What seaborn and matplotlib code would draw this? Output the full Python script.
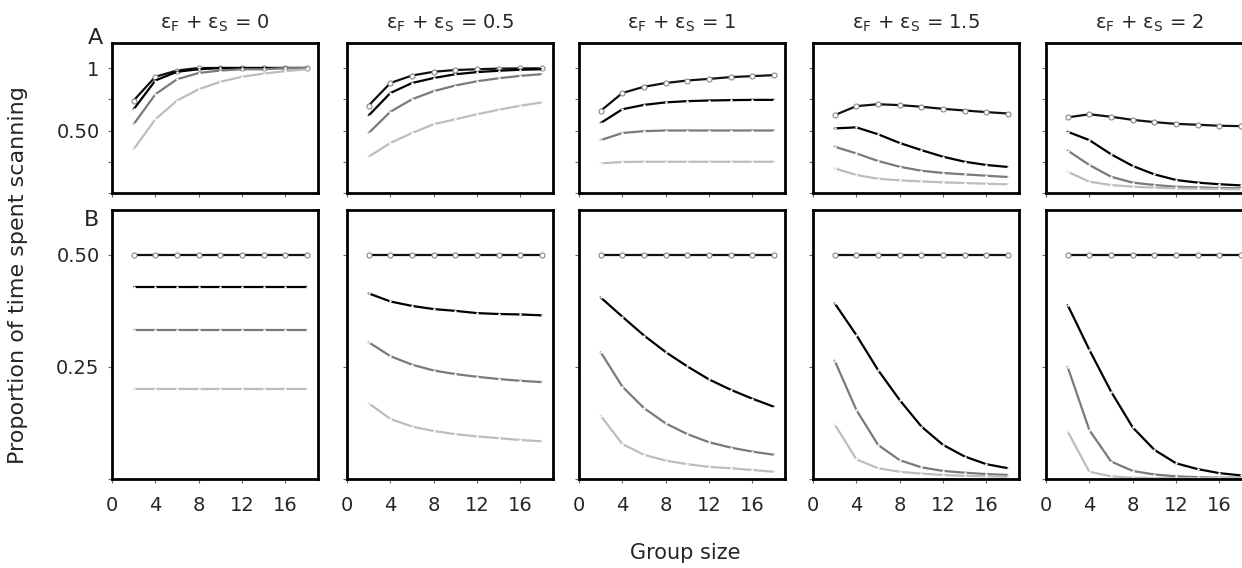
import matplotlib
matplotlib.use("Agg")
import pandas as pd
import matplotlib.pyplot as plt
import seaborn as sns

# group sizes where the model was evaluated
group_size = [2, 4, 6, 8, 10, 12, 14, 16, 18]
eps_labels = ["0", "0.5", "1", "1.5", "2"]

# row A, four curves per panel (darkest first)
a_eps0 = [[0.74, 0.93, 0.98, 1.00, 1.00, 1.00, 1.00, 1.00, 1.00],
          [0.67, 0.90, 0.97, 0.99, 1.00, 1.00, 1.00, 1.00, 1.00],
          [0.55, 0.79, 0.91, 0.96, 0.98, 0.99, 0.99, 1.00, 1.00],
          [0.35, 0.59, 0.74, 0.83, 0.89, 0.93, 0.955, 0.975, 0.99]]
a_eps05 = [[0.70, 0.88, 0.94, 0.97, 0.984, 0.99, 0.995, 0.997, 0.997],
           [0.62, 0.80, 0.88, 0.92, 0.95, 0.967, 0.978, 0.986, 0.99],
           [0.48, 0.65, 0.75, 0.815, 0.86, 0.894, 0.918, 0.937, 0.951],
           [0.29, 0.40, 0.48, 0.55, 0.59, 0.63, 0.666, 0.698, 0.725]]
a_eps1 = [[0.657, 0.80, 0.85, 0.88, 0.90, 0.913, 0.927, 0.935, 0.943],
          [0.56, 0.67, 0.705, 0.725, 0.735, 0.74, 0.743, 0.745, 0.745],
          [0.423, 0.48, 0.495, 0.50, 0.50, 0.50, 0.50, 0.50, 0.50],
          [0.237, 0.248, 0.25, 0.25, 0.25, 0.25, 0.25, 0.25, 0.25]]
a_eps15 = [[0.623, 0.695, 0.71, 0.703, 0.69, 0.673, 0.66, 0.647, 0.636],
           [0.517, 0.525, 0.47, 0.40, 0.343, 0.29, 0.25, 0.224, 0.208],
           [0.37, 0.317, 0.256, 0.21, 0.178, 0.16, 0.149, 0.138, 0.128],
           [0.197, 0.144, 0.114, 0.101, 0.093, 0.085, 0.08, 0.074, 0.069]]
a_eps2 = [[0.605, 0.63, 0.61, 0.585, 0.567, 0.553, 0.546, 0.538, 0.535],
          [0.49, 0.423, 0.31, 0.216, 0.149, 0.104, 0.083, 0.07, 0.061],
          [0.34, 0.224, 0.13, 0.083, 0.064, 0.05, 0.045, 0.04, 0.038],
          [0.17, 0.09, 0.064, 0.05, 0.043, 0.037, 0.034, 0.032, 0.03]]

# row B
b_eps0 = [[0.50, 0.50, 0.50, 0.50, 0.50, 0.50, 0.50, 0.50, 0.50],
          [0.429, 0.429, 0.429, 0.429, 0.429, 0.429, 0.429, 0.429, 0.429],
          [0.333, 0.333, 0.333, 0.333, 0.333, 0.333, 0.333, 0.333, 0.333],
          [0.20, 0.20, 0.20, 0.20, 0.20, 0.20, 0.20, 0.20, 0.20]]
b_eps05 = [[0.50, 0.50, 0.50, 0.50, 0.50, 0.50, 0.50, 0.50, 0.50],
           [0.414, 0.396, 0.386, 0.379, 0.375, 0.37, 0.368, 0.367, 0.365],
           [0.305, 0.274, 0.255, 0.242, 0.234, 0.228, 0.223, 0.219, 0.216],
           [0.169, 0.134, 0.117, 0.107, 0.10, 0.095, 0.091, 0.087, 0.084]]
b_eps1 = [[0.50, 0.50, 0.50, 0.50, 0.50, 0.50, 0.50, 0.50, 0.50],
          [0.405, 0.362, 0.32, 0.283, 0.251, 0.222, 0.199, 0.179, 0.161],
          [0.283, 0.206, 0.158, 0.124, 0.10, 0.082, 0.07, 0.061, 0.054],
          [0.141, 0.078, 0.054, 0.041, 0.033, 0.027, 0.024, 0.02, 0.016]]
b_eps15 = [[0.50, 0.50, 0.50, 0.50, 0.50, 0.50, 0.50, 0.50, 0.50],
           [0.392, 0.321, 0.243, 0.176, 0.117, 0.076, 0.05, 0.033, 0.024],
           [0.264, 0.154, 0.076, 0.042, 0.026, 0.018, 0.014, 0.011, 0.009],
           [0.122, 0.044, 0.024, 0.016, 0.012, 0.009, 0.007, 0.006, 0.005]]
b_eps2 = [[0.50, 0.50, 0.50, 0.50, 0.50, 0.50, 0.50, 0.50, 0.50],
          [0.388, 0.288, 0.195, 0.115, 0.065, 0.035, 0.022, 0.013, 0.008],
          [0.25, 0.109, 0.039, 0.018, 0.01, 0.006, 0.004, 0.003, 0.003],
          [0.106, 0.016, 0.006, 0.003, 0.002, 0.002, 0.002, 0.002, 0.002]]

rows_a = [a_eps0, a_eps05, a_eps1, a_eps15, a_eps2]
rows_b = [b_eps0, b_eps05, b_eps1, b_eps15, b_eps2]
line_colors = ["#111111", "#000000", "#7a7a7a", "#bdbdbd"]

sns.set_style("ticks")
plt.rcParams["font.family"] = ["DejaVu Sans"]

W, H = 1242, 568
fig = plt.figure(figsize=(W / 100, H / 100), dpi=100)
lefts = [112, 347, 579, 813, 1046]
pw = 206


def draw_panel(ax, curves):
    for k, ys in enumerate(curves):
        df = pd.DataFrame({"n": group_size, "p": ys})
        if k == 0:
            sns.lineplot(data=df, x="n", y="p", ax=ax, color=line_colors[k],
                         linewidth=1.6, marker="o", markersize=3.6,
                         markerfacecolor="white", markeredgecolor="#888888",
                         markeredgewidth=0.8)
        else:
            sns.lineplot(data=df, x="n", y="p", ax=ax, color=line_colors[k],
                         linewidth=1.6, marker="o", markersize=1.8,
                         markerfacecolor="white", markeredgecolor="white",
                         markeredgewidth=0)
    ax.set_xlabel("")
    ax.set_ylabel("")
    ax.set_xlim(0, 19)
    ax.set_xticks([0, 4, 8, 12, 16])
    for s in ax.spines.values():
        s.set_linewidth(2.0)
        s.set_color("black")
    ax.tick_params(direction="out", length=3, width=0.8, color="#666666",
                   labelsize=14, pad=9)


for col in range(5):
    axA = fig.add_axes([lefts[col] / W, (H - 193) / H, pw / W, 150 / H])
    axB = fig.add_axes([lefts[col] / W, (H - 479) / H, pw / W, 269 / H])
    draw_panel(axA, rows_a[col])
    draw_panel(axB, rows_b[col])

    axA.set_ylim(0, 1.2)
    axA.set_yticks([0, 0.25, 0.5, 0.75, 1.0])
    axA.set_xticklabels([])
    axB.set_ylim(0, 0.6)
    axB.set_yticks([0, 0.25, 0.5])
    if col == 0:
        axA.set_yticklabels(["", "", "0.50", "", "1"])
        axB.set_yticklabels(["", "0.25", "0.50"])
        axA.tick_params(axis="y", pad=6)
        axB.tick_params(axis="y", pad=6)
    else:
        axA.set_yticklabels([])
        axB.set_yticklabels([])

    axA.set_title("ε$_\\mathregular{F}$ + ε$_\\mathregular{S}$ = " + eps_labels[col],
                  fontsize=14, pad=10)

fig.text(95 / W, 1 - 38 / H, "A", fontsize=16, ha="center", va="center")
fig.text(92 / W, 1 - 220 / H, "B", fontsize=16, ha="center", va="center")
fig.text(18 / W, 1 - 275 / H, "Proportion of time spent scanning", fontsize=16,
         rotation=90, ha="center", va="center")
fig.text(685 / W, 1 - 553 / H, "Group size", fontsize=15, ha="center", va="center")

fig.savefig("out.png", dpi=100)
